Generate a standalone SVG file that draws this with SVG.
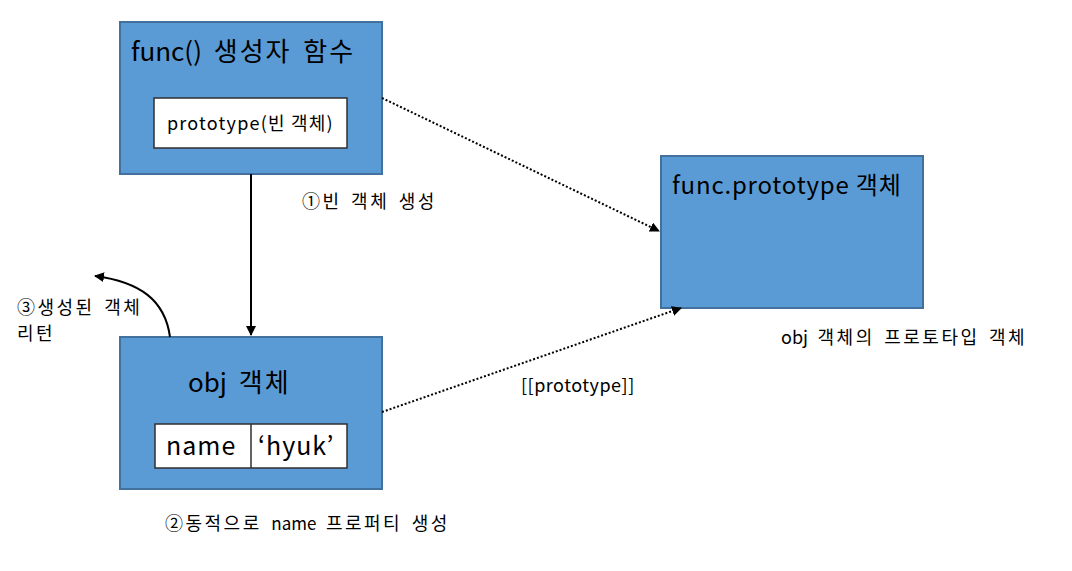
<svg xmlns="http://www.w3.org/2000/svg" width="1072" height="571" viewBox="0 0 1072 571">
<defs>
<style>
.box{fill:#5B9BD5;stroke:#41719C;stroke-width:2}
.inner{fill:#FFFFFF;stroke:#2F2F2F;stroke-width:1.5}
text{font-family:"Malgun Gothic","Noto Sans CJK KR","Noto Sans",sans-serif;fill:#000}
.big{font-size:26px;letter-spacing:2px;word-spacing:4px}
.mid{font-size:24px;letter-spacing:0.8px}
.cell{font-size:25px;letter-spacing:1px}
.small{font-size:18px;letter-spacing:2.5px;word-spacing:3px}
.la{letter-spacing:0}
.proto{font-size:18px;letter-spacing:1.2px}
.latin{font-size:18px;letter-spacing:0.5px}
.dot{fill:none;stroke:#000;stroke-width:2;stroke-dasharray:2 2}
.solid{fill:none;stroke:#000;stroke-width:2}
</style>
<marker id="arr" viewBox="0 0 10 10" refX="9" refY="5" markerWidth="5" markerHeight="5" orient="auto" markerUnits="strokeWidth">
<path d="M0,0 L10,5 L0,10 z" fill="#000"/>
</marker>
</defs>
<rect width="1072" height="571" fill="#FFFFFF"/>
<g id="func-node">
<rect class="box" x="120" y="22" width="262" height="152"/>
<text class="big" x="131" y="61"><tspan class="la">func()</tspan> 생성자 함수</text>
<rect class="inner" x="154" y="98" width="193" height="50"/>
<text class="proto" x="167" y="130">prototype(빈 객체)</text>
</g>
<g id="funcproto-node">
<rect class="box" x="661" y="156" width="262" height="152"/>
<text class="mid" x="672" y="194">func.prototype 객체</text>
</g>
<g id="obj-node">
<rect class="box" x="120" y="337" width="262" height="152"/>
<text class="big" x="188" y="392"><tspan class="la">obj</tspan> 객체</text>
<rect class="inner" x="155" y="424" width="192" height="44"/>
<line x1="251" y1="424" x2="251" y2="468" stroke="#2F2F2F" stroke-width="1.5"/>
<text class="cell" x="166" y="455">name</text>
<text class="cell" x="258" y="455">‘hyuk’</text>
</g>
<g id="connectors">
<line class="solid" x1="251" y1="174" x2="251" y2="335" marker-end="url(#arr)"/>
<path class="solid" d="M170,337 C165,300 140,282 95,276" marker-end="url(#arr)"/>
<line class="dot" x1="382" y1="98" x2="659" y2="231" marker-end="url(#arr)"/>
<line class="dot" x1="382" y1="412" x2="681" y2="308" marker-end="url(#arr)"/>
</g>
<g id="labels">
<text class="small" x="302" y="208">①빈 객체 생성</text>
<text class="small" x="17" y="314">③생성된 객체</text>
<text class="small" x="17" y="340">리턴</text>
<text class="small" x="165" y="530">②동적으로 <tspan class="la" style="font-size:17px">name</tspan> 프로퍼티 생성</text>
<text class="latin" x="521" y="392">[[prototype]]</text>
<text class="small" x="781" y="344"><tspan class="la">obj</tspan> 객체의 프로토타입 객체</text>
</g>
</svg>
